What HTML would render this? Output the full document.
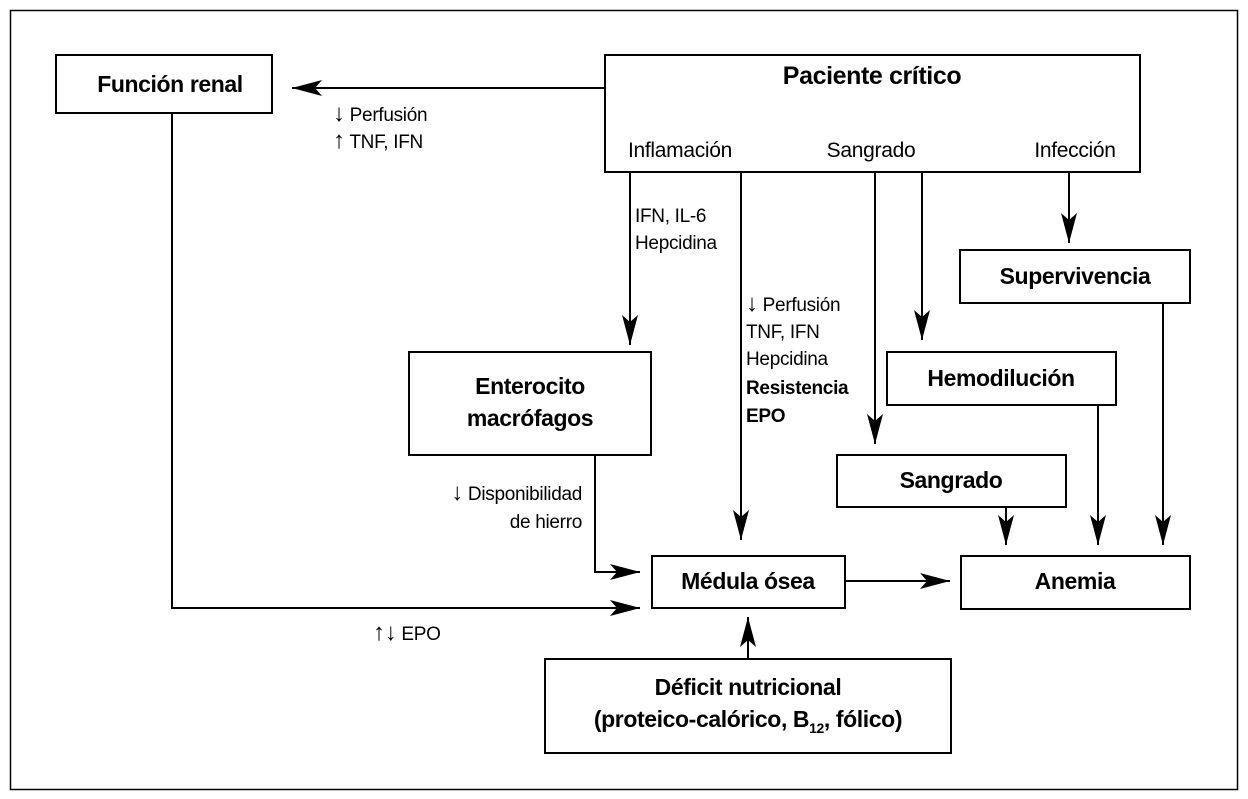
<!DOCTYPE html>
<html><head><meta charset="utf-8"><style>
html,body{margin:0;padding:0;background:#fff}
svg{display:block}
text{font-family:"Liberation Sans Narrow","Liberation Sans",sans-serif;fill:#000}
.b{font-weight:bold;font-size:23px;letter-spacing:-0.4px}
.r{font-size:19px;letter-spacing:-0.3px}
.ar{font-size:24px}
</style></head><body>
<svg width="1248" height="799" viewBox="0 0 1248 799" xmlns="http://www.w3.org/2000/svg">
<defs>
<marker id="a" markerWidth="32" markerHeight="16" refX="30" refY="8" orient="auto" markerUnits="userSpaceOnUse">
<path d="M0,0 L30,8 L0,16 L7,8 Z" fill="#000"/>
</marker>
</defs>
<rect x="10.5" y="10.5" width="1227" height="779" fill="none" stroke="#000" stroke-width="1.5"/>
<g fill="none" stroke="#000" stroke-width="2">
<rect x="56" y="55" width="216" height="58"/>
<rect x="605" y="55" width="535" height="117"/>
<rect x="960" y="250" width="230" height="53"/>
<rect x="887" y="352" width="229" height="53"/>
<rect x="409" y="352" width="242" height="103"/>
<rect x="837" y="455" width="229" height="52"/>
<rect x="652" y="556" width="193" height="52"/>
<rect x="961" y="556" width="229" height="53"/>
<rect x="545" y="659" width="406" height="94"/>
</g>
<g fill="none" stroke="#000" stroke-width="2" marker-end="url(#a)">
<path d="M605,88 H292"/>
<path d="M172,113 V608 H640"/>
<path d="M630,172 V345"/>
<path d="M741,172 V540"/>
<path d="M875,172 V444"/>
<path d="M922,172 V340"/>
<path d="M1069,172 V243"/>
<path d="M595,455 V572 H640"/>
<path d="M845,581 H950"/>
<path d="M748,659 V617"/>
<path d="M1006,507 V545"/>
<path d="M1098,405 V545"/>
<path d="M1163,303 V545"/>
</g>
<text class="b" x="170" y="92" text-anchor="middle">Función renal</text>
<text class="b" x="872" y="84" text-anchor="middle" style="font-size:25px">Paciente crítico</text>
<text class="r" x="680" y="157" text-anchor="middle" style="font-size:21px">Inflamación</text>
<text class="r" x="871" y="157" text-anchor="middle" style="font-size:21px">Sangrado</text>
<text class="r" x="1075" y="157" text-anchor="middle" style="font-size:21px">Infección</text>
<text class="r" x="333" y="121"><tspan class="ar">↓</tspan> Perfusión</text>
<text class="r" x="333" y="148"><tspan class="ar">↑</tspan> TNF, IFN</text>
<text class="r" x="635" y="222">IFN, IL-6</text>
<text class="r" x="635" y="249">Hepcidina</text>
<text class="r" x="746" y="311"><tspan class="ar">↓</tspan> Perfusión</text>
<text class="r" x="746" y="338">TNF, IFN</text>
<text class="r" x="746" y="365">Hepcidina</text>
<text class="r" x="746" y="394" font-weight="bold">Resistencia</text>
<text class="r" x="746" y="422" font-weight="bold">EPO</text>
<text class="r" x="582" y="500" text-anchor="end"><tspan class="ar">↓</tspan> Disponibilidad</text>
<text class="r" x="582" y="528" text-anchor="end">de hierro</text>
<text class="r" x="373" y="640"><tspan class="ar">↑↓</tspan> EPO</text>
<text class="b" x="1075" y="284" text-anchor="middle">Supervivencia</text>
<text class="b" x="1001" y="386" text-anchor="middle">Hemodilución</text>
<text class="b" x="530" y="394" text-anchor="middle">Enterocito</text>
<text class="b" x="530" y="426" text-anchor="middle">macrófagos</text>
<text class="b" x="951" y="488" text-anchor="middle">Sangrado</text>
<text class="b" x="748" y="589" text-anchor="middle">Médula ósea</text>
<text class="b" x="1075" y="589" text-anchor="middle">Anemia</text>
<text class="b" x="748" y="695" text-anchor="middle">Déficit nutricional</text>
<text class="b" x="748" y="727" text-anchor="middle">(proteico-calórico, B<tspan font-size="14" dy="6">12</tspan><tspan dy="-6">, fólico)</tspan></text>
</svg>
</body></html>
